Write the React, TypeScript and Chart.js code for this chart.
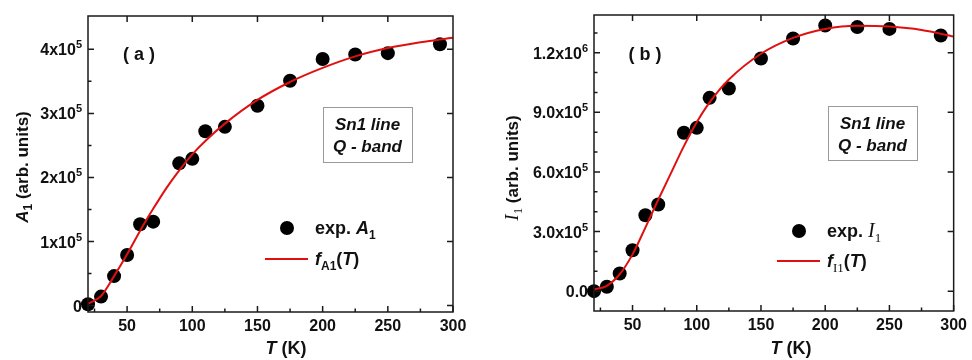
import React, { useEffect, useRef } from "react";
import { Chart, registerables } from "chart.js";
Chart.register(...registerables);

const SANS = '"Liberation Sans", Arial, Helvetica, sans-serif';
const SERIF = '"Liberation Serif", "Times New Roman", serif';

// ---------- data ----------
// panel (a)
const expTempA = [20, 30, 40, 50, 60, 70, 90, 100, 110, 125, 150, 175, 200, 225, 250, 290];
const expA1 = [2000, 14000, 46000, 79000, 127000, 131000, 222000, 229000, 272000, 279000, 312000, 351000, 385000, 392000, 394000, 408000];
const fitTempA = [20, 30, 40, 50, 60, 70, 80, 90, 100, 110, 125, 150, 175, 200, 225, 250, 275, 300];
const fitA1 = [3000, 15000, 46000, 80000, 117000, 151000, 183000, 211000, 236000, 257000, 284000, 321000, 349000, 371000, 389000, 402000, 411000, 418000];

// panel (b)
const expTempB = [20, 30, 40, 50, 60, 70, 90, 100, 110, 125, 150, 175, 200, 225, 250, 290];
const expI1 = [0, 22000, 89000, 206000, 382000, 436000, 797000, 822000, 973000, 1020000, 1171000, 1272000, 1337000, 1329000, 1320000, 1287000];
const fitTempB = [20, 30, 40, 50, 60, 70, 80, 90, 100, 110, 125, 150, 175, 200, 225, 250, 275, 300];
const fitI1 = [8000, 27000, 85000, 185000, 320000, 460000, 595000, 730000, 850000, 950000, 1065000, 1195000, 1275000, 1320000, 1336000, 1332000, 1315000, 1282000];

// axes / ticks
const xMajorTicks = [50, 100, 150, 200, 250, 300];
const xMinorTicks = [25, 75, 125, 175, 225, 275];
const yMajorA = [0, 100000, 200000, 300000, 400000];
const yMinorA = [50000, 150000, 250000, 350000];
const yLabelsA: [string, string][] = [["0", ""], ["1x10", "5"], ["2x10", "5"], ["3x10", "5"], ["4x10", "5"]];
const yMajorB = [0, 300000, 600000, 900000, 1200000];
const yMinorB = [100000, 200000, 400000, 500000, 700000, 800000, 1000000, 1100000, 1300000];
const yLabelsB: [string, string][] = [["0.0", ""], ["3.0x10", "5"], ["6.0x10", "5"], ["9.0x10", "5"], ["1.2x10", "6"]];

type Run = { t: string; f: string; dy?: number };

function drawRuns(ctx: CanvasRenderingContext2D, runs: Run[], x: number, y: number, align: string = "left") {
  let w = 0;
  for (const r of runs) { ctx.font = r.f; w += ctx.measureText(r.t).width; }
  let cx = align === "center" ? x - w / 2 : align === "right" ? x - w : x;
  ctx.textAlign = "left";
  ctx.textBaseline = "alphabetic";
  for (const r of runs) {
    ctx.font = r.f;
    ctx.fillText(r.t, cx, y + (r.dy || 0));
    cx += ctx.measureText(r.t).width;
  }
}

const B = (s: number) => `bold ${s}px ${SANS}`;
const BI = (s: number) => `italic bold ${s}px ${SANS}`;
const SI = (s: number) => `italic ${s}px ${SERIF}`;
const SR = (s: number) => `${s}px ${SERIF}`;

type Panel = {
  expT: number[]; expV: number[]; fitT: number[]; fitV: number[];
  yMin: number; yMax: number; yMajor: number[]; yMinor: number[]; yLabels: [string, string][];
  padTop: number; padRight: number; yWidth: number; xHeight: number;
  yTitle: Run[]; yTitleX: number; yTitleY: number;
  xTitleX: number;
  panelLabel: string; panelX: number;
  box: [number, number, number, number];
  legendDotX: number; legendDotY: number; legendTextX: number; legendLineX0: number; legendLineX1: number; legendLineY: number;
  legendExp: Run[]; legendFit: Run[];
};

function makeChart(canvas: HTMLCanvasElement, p: Panel) {
  const decor = {
    id: "decor",
    afterDraw(chart: any) {
      const ctx: CanvasRenderingContext2D = chart.ctx;
      const { left, right, top, bottom } = chart.chartArea;
      const xs = chart.scales.x;
      const ys = chart.scales.y;
      ctx.save();
      ctx.strokeStyle = "#1a1a1a";
      ctx.lineWidth = 1.5;
      ctx.strokeRect(left, top, right - left, bottom - top);
      ctx.beginPath();
      const maj = 6, min = 3.5;
      for (const v of xMajorTicks) {
        const px = xs.getPixelForValue(v);
        ctx.moveTo(px, bottom); ctx.lineTo(px, bottom - maj);
        if (v < 300) { ctx.moveTo(px, top); ctx.lineTo(px, top + maj); }
      }
      for (const v of xMinorTicks) {
        const px = xs.getPixelForValue(v);
        ctx.moveTo(px, bottom); ctx.lineTo(px, bottom - min);
      }
      for (const v of p.yMajor) {
        const py = ys.getPixelForValue(v);
        ctx.moveTo(left, py); ctx.lineTo(left + maj, py);
        ctx.moveTo(right, py); ctx.lineTo(right - maj, py);
      }
      for (const v of p.yMinor) {
        const py = ys.getPixelForValue(v);
        ctx.moveTo(left, py); ctx.lineTo(left + min, py);
      }
      ctx.stroke();

      ctx.fillStyle = "#111";
      // y tick labels
      p.yMajor.forEach((v, i) => {
        const py = ys.getPixelForValue(v);
        const [base, ex] = p.yLabels[i];
        const runs: Run[] = [{ t: base, f: B(16) }];
        if (ex) runs.push({ t: ex, f: B(11), dy: -7 });
        drawRuns(ctx, runs, left - 6, py + 6, "right");
      });
      // y title
      ctx.save();
      ctx.translate(p.yTitleX, p.yTitleY);
      ctx.rotate(-Math.PI / 2);
      drawRuns(ctx, p.yTitle, 0, 6, "center");
      ctx.restore();
      // x title
      drawRuns(ctx, [{ t: "T", f: BI(18) }, { t: " (K)", f: B(18) }], p.xTitleX, 354, "center");
      // panel label
      drawRuns(ctx, [{ t: p.panelLabel, f: B(18) }], p.panelX, 60, "center");
      // text box
      const [bx0, by0, bx1, by1] = p.box;
      ctx.strokeStyle = "#9a9a9a";
      ctx.lineWidth = 1;
      ctx.strokeRect(bx0 + 0.5, by0 + 0.5, bx1 - bx0, by1 - by0);
      const bcx = (bx0 + bx1) / 2;
      drawRuns(ctx, [{ t: "Sn1 line", f: BI(17) }], bcx, by0 + 23, "center");
      drawRuns(ctx, [{ t: "Q - band", f: BI(17) }], bcx, by0 + 45, "center");
      // legend
      ctx.beginPath();
      ctx.arc(p.legendDotX, p.legendDotY, 7, 0, Math.PI * 2);
      ctx.fillStyle = "#000";
      ctx.fill();
      ctx.fillStyle = "#111";
      drawRuns(ctx, p.legendExp, p.legendTextX, p.legendDotY + 6, "left");
      ctx.strokeStyle = "#e01010";
      ctx.lineWidth = 2;
      ctx.beginPath();
      ctx.moveTo(p.legendLineX0, p.legendLineY);
      ctx.lineTo(p.legendLineX1, p.legendLineY);
      ctx.stroke();
      drawRuns(ctx, p.legendFit, p.legendTextX, p.legendLineY + 6, "left");
      ctx.restore();
    },
  };

  return new Chart(canvas, {
    type: "scatter",
    data: {
      datasets: [
        {
          data: p.fitT.map((t, i) => ({ x: t, y: p.fitV[i] })),
          showLine: true,
          borderColor: "#e01010",
          borderWidth: 2,
          pointRadius: 0,
          cubicInterpolationMode: "monotone",
        } as any,
        {
          data: p.expT.map((t, i) => ({ x: t, y: p.expV[i] })),
          pointRadius: 7,
          pointBackgroundColor: "#000",
          pointBorderColor: "#000",
          pointBorderWidth: 0,
          clip: false,
        } as any,
      ],
    },
    options: {
      responsive: false,
      animation: false,
      devicePixelRatio: 1,
      events: [],
      layout: { padding: { left: 0, top: p.padTop, right: p.padRight, bottom: 0 } },
      plugins: { legend: { display: false }, tooltip: { enabled: false } },
      scales: {
        x: {
          type: "linear",
          min: 20,
          max: 300,
          afterBuildTicks: (s: any) => { s.ticks = xMajorTicks.map((v) => ({ value: v })); },
          afterFit: (s: any) => { s.height = p.xHeight; },
          grid: { display: false, drawTicks: false },
          border: { display: false },
          ticks: { color: "#111", padding: 5, maxRotation: 0, font: { family: SANS, size: 16, weight: "bold" } },
        },
        y: {
          type: "linear",
          min: p.yMin,
          max: p.yMax,
          afterFit: (s: any) => { s.width = p.yWidth; },
          grid: { display: false, drawTicks: false },
          border: { display: false },
          ticks: { display: false },
        },
      },
    } as any,
    plugins: [decor],
  });
}

const panelA: Panel = {
  expT: expTempA, expV: expA1, fitT: fitTempA, fitV: fitA1,
  yMin: -10000, yMax: 452000, yMajor: yMajorA, yMinor: yMinorA, yLabels: yLabelsA,
  padTop: 16, padRight: 33, yWidth: 88, xHeight: 48,
  yTitle: [{ t: "A", f: BI(17) }, { t: "1", f: B(12), dy: 4 }, { t: " (arb. units)", f: B(17) }],
  yTitleX: 22, yTitleY: 167,
  xTitleX: 286,
  panelLabel: "( a )", panelX: 139,
  box: [323, 107, 412, 162],
  legendDotX: 287, legendDotY: 228, legendTextX: 315, legendLineX0: 265, legendLineX1: 308, legendLineY: 259,
  legendExp: [{ t: "exp. ", f: B(18) }, { t: "A", f: BI(18) }, { t: "1", f: B(12), dy: 5 }],
  legendFit: [{ t: "f", f: BI(18) }, { t: "A1", f: B(12), dy: 5 }, { t: "(", f: B(18) }, { t: "T", f: BI(18) }, { t: ")", f: B(18) }],
};

const panelB: Panel = {
  expT: expTempB, expV: expI1, fitT: fitTempB, fitV: fitI1,
  yMin: -100000, yMax: 1390000, yMajor: yMajorB, yMinor: yMinorB, yLabels: yLabelsB,
  padTop: 15, padRight: 14, yWidth: 108, xHeight: 49,
  yTitle: [{ t: "I", f: SI(19) }, { t: "1", f: SR(13), dy: 4 }, { t: " (arb. units)", f: B(17) }],
  yTitleX: 26, yTitleY: 168,
  xTitleX: 305,
  panelLabel: "( b )", panelX: 159,
  box: [342, 106, 431, 160],
  legendDotX: 313, legendDotY: 231, legendTextX: 341, legendLineX0: 291, legendLineX1: 334, legendLineY: 261,
  legendExp: [{ t: "exp. ", f: B(18) }, { t: "I", f: SI(20) }, { t: "1", f: SR(13), dy: 5 }],
  legendFit: [{ t: "f", f: BI(18) }, { t: "I1", f: SR(13), dy: 5 }, { t: "(", f: B(18) }, { t: "T", f: BI(18) }, { t: ")", f: B(18) }],
};

export default function App() {
  const refA = useRef<HTMLCanvasElement>(null);
  const refB = useRef<HTMLCanvasElement>(null);
  useEffect(() => {
    const a = makeChart(refA.current!, panelA);
    const b = makeChart(refB.current!, panelB);
    return () => { a.destroy(); b.destroy(); };
  }, []);
  return (
    <div style={{ position: "fixed", left: 0, top: 0, width: 972, height: 360, background: "#fff", overflow: "hidden" }}>
      <canvas ref={refA} width={486} height={360} style={{ position: "absolute", left: 0, top: 0, width: 486, height: 360 }} />
      <canvas ref={refB} width={486} height={360} style={{ position: "absolute", left: 486, top: 0, width: 486, height: 360 }} />
    </div>
  );
}
